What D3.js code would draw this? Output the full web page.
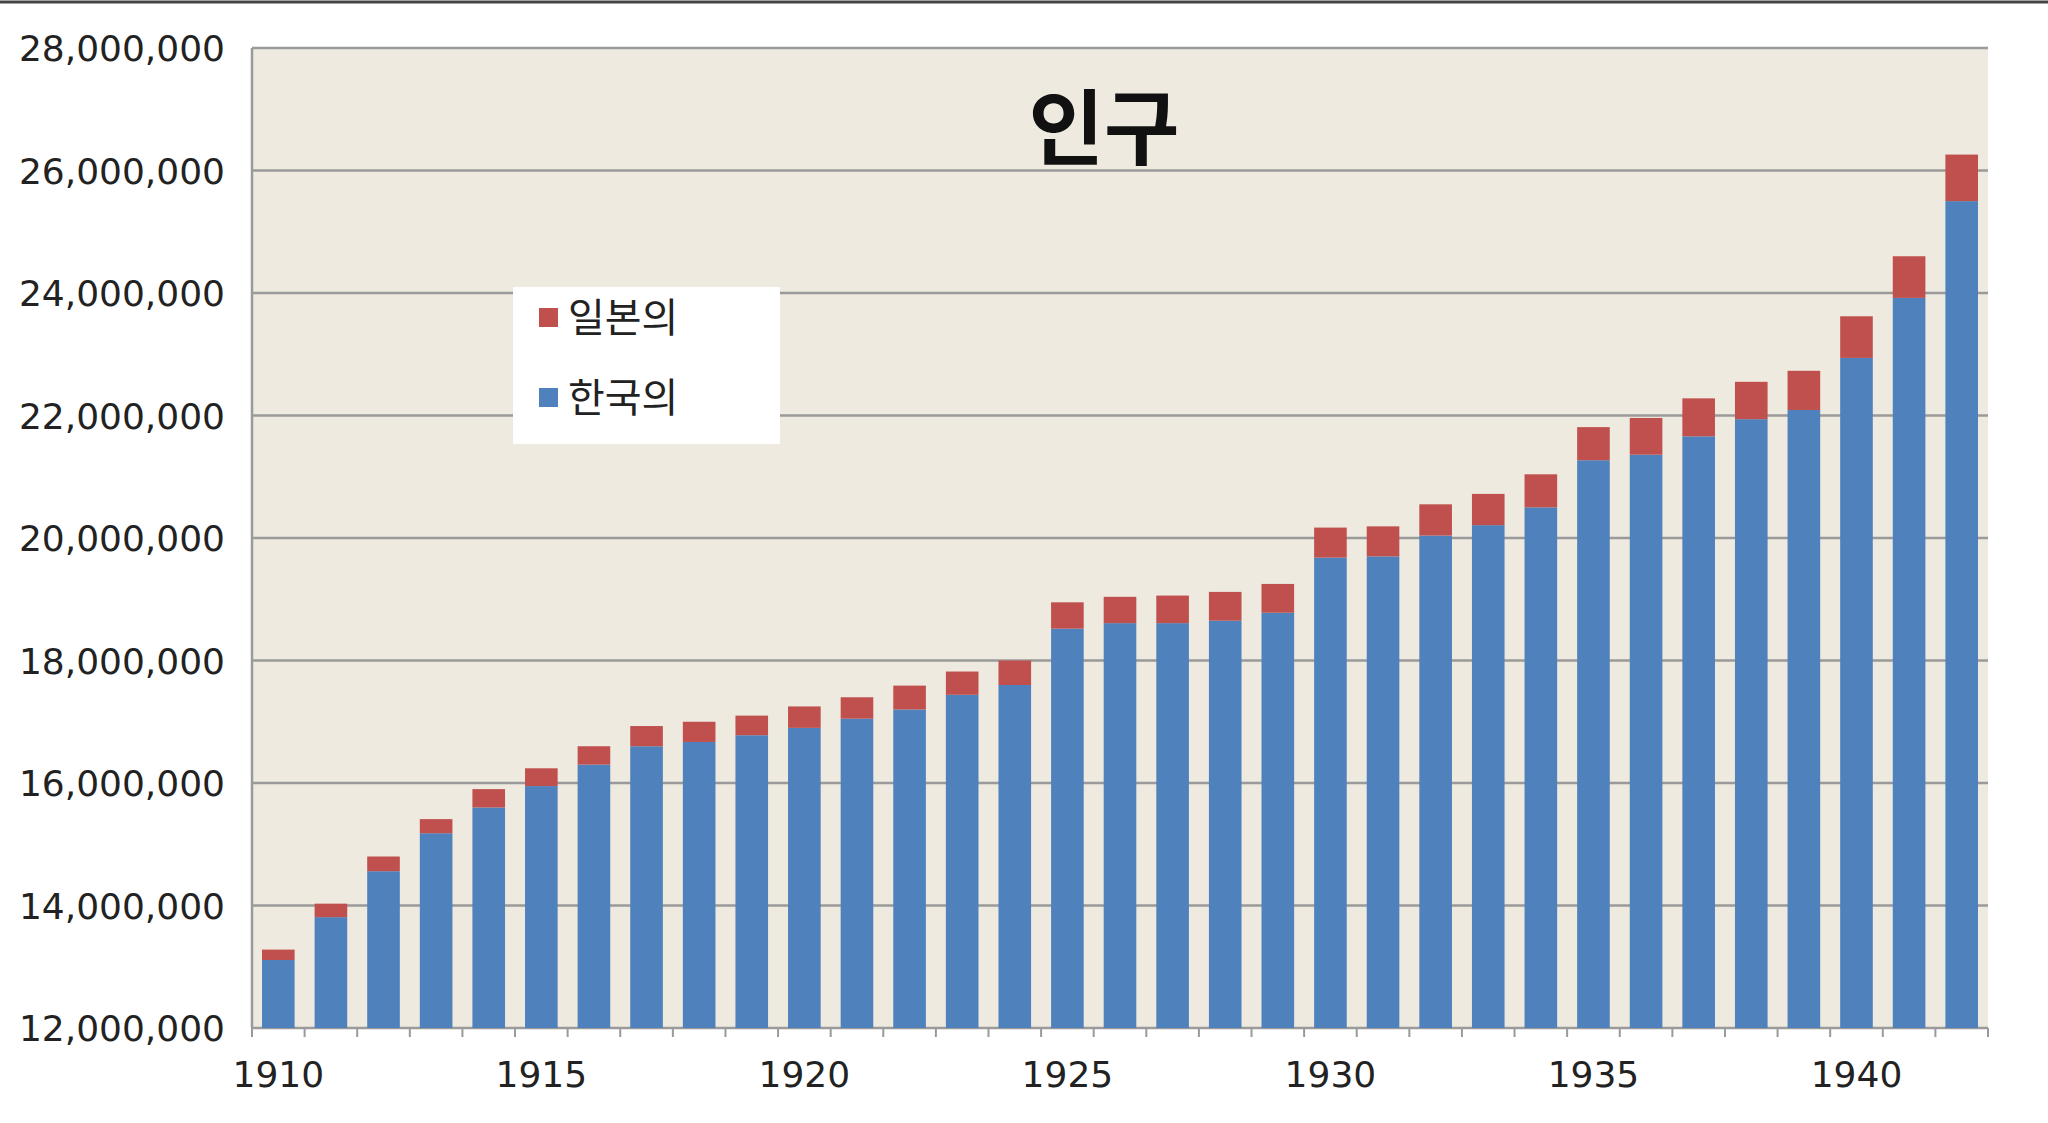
<!DOCTYPE html>
<html><head><meta charset="utf-8">
<script src="https://cdn.jsdelivr.net/npm/d3@7"></script>
<style>body{margin:0;background:#fff}</style>
</head><body>
<svg id="chart" width="2048" height="1123"></svg>
<script>
const years = d3.range(1910, 1943);
// 한국의 (Korean population)
const korean = [13.11,13.81,14.56,15.18,15.6,15.95,16.3,16.6,16.67,16.78,16.9,17.05,17.2,17.44,17.6,
  18.52,18.61,18.61,18.65,18.78,19.68,19.7,20.04,20.21,20.5,21.27,21.36,21.66,21.94,22.09,22.94,23.92,25.5];
// total incl. 일본의 (Japanese)
const total = [13.28,14.03,14.8,15.41,15.9,16.24,16.6,16.93,17.0,17.1,17.25,17.4,17.59,17.82,18.0,
  18.95,19.04,19.06,19.12,19.25,20.17,20.19,20.55,20.72,21.04,21.81,21.96,22.28,22.55,22.73,23.62,24.6,26.26];
const yTicks = d3.range(12, 28.01, 2);
const xLabels = [1910,1915,1920,1925,1930,1935,1940];

const svg = d3.select("#chart");
const L = 252, R = 1988, T = 48, B = 1028;
const x = d3.scaleBand().domain(years).range([L, R]).paddingInner(0.38).paddingOuter(0.19);
const y = d3.scaleLinear().domain([12, 28]).range([B, T]);

svg.append("line").attr("x1",0).attr("x2",2048).attr("y1",2).attr("y2",2).attr("stroke","#444").attr("stroke-width",3);
svg.append("rect").attr("x",L).attr("y",T).attr("width",R-L).attr("height",B-T).attr("fill","#eeeae0");

svg.selectAll(".grid").data(yTicks).enter().append("line")
  .attr("x1",L).attr("x2",R).attr("y1",d=>y(d)).attr("y2",d=>y(d))
  .attr("stroke","#9a9a9a").attr("stroke-width",2.5);
svg.append("line").attr("x1",L).attr("x2",L).attr("y1",T).attr("y2",B).attr("stroke","#9a9a9a").attr("stroke-width",2.5);

svg.selectAll(".k").data(years).enter().append("rect")
  .attr("x",d=>x(d)).attr("width",x.bandwidth())
  .attr("y",(d,i)=>y(korean[i])).attr("height",(d,i)=>B-y(korean[i])).attr("fill","#4f81bd");
svg.selectAll(".j").data(years).enter().append("rect")
  .attr("x",d=>x(d)).attr("width",x.bandwidth())
  .attr("y",(d,i)=>y(total[i])).attr("height",(d,i)=>y(korean[i])-y(total[i])).attr("fill","#c0504d");

// x tick marks at band boundaries
const step = x.step();
svg.selectAll(".xt").data(d3.range(years.length+1)).enter().append("line")
  .attr("x1",i=>L+i*(R-L)/years.length).attr("x2",i=>L+i*(R-L)/years.length)
  .attr("y1",B).attr("y2",B+9).attr("stroke","#9a9a9a").attr("stroke-width",2);

const font = "DejaVu Sans, sans-serif";
svg.selectAll(".yl").data(yTicks).enter().append("text")
  .attr("x",225).attr("y",d=>y(d)+13).attr("text-anchor","end")
  .attr("font-family",font).attr("font-size",36).attr("fill","#222")
  .text(d=>d3.format(",")(d*1e6));
svg.selectAll(".xl").data(xLabels).enter().append("text")
  .attr("x",d=>x(d)+x.bandwidth()/2).attr("y",1087).attr("text-anchor","middle")
  .attr("font-family",font).attr("font-size",36).attr("fill","#222").text(d=>d);

svg.append("text").attr("x",1104).attr("y",158).attr("text-anchor","middle")
  .attr("font-family","Noto Sans CJK KR").attr("font-weight","bold").attr("font-size",82).attr("fill","#111").text("인구");

const lg = svg.append("g");
lg.append("rect").attr("x",513).attr("y",287).attr("width",267).attr("height",157).attr("fill","#fff");
[["일본의","#c0504d",330],["한국의","#4f81bd",410]].forEach(([t,c,yy])=>{
  lg.append("rect").attr("x",539).attr("y",yy-22).attr("width",19).attr("height",19).attr("fill",c);
  lg.append("text").attr("x",568).attr("y",yy+2).attr("font-family","Noto Sans CJK KR")
    .attr("font-size",40).attr("fill","#222").text(t);
});
</script>
</body></html>
